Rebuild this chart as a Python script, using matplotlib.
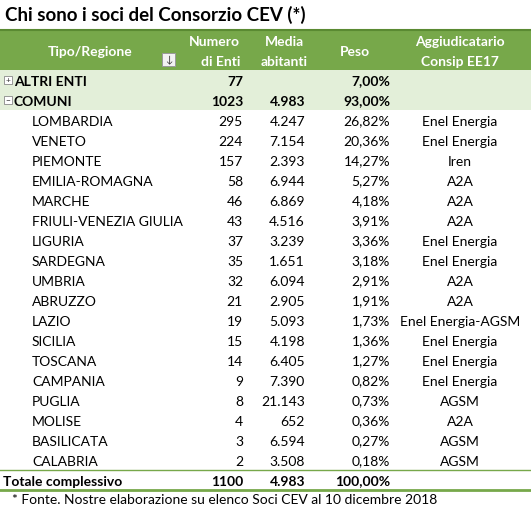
import matplotlib
matplotlib.use('Agg')
import matplotlib.pyplot as plt
from matplotlib.patches import Rectangle

regions = ['LOMBARDIA', 'VENETO', 'PIEMONTE', 'EMILIA-ROMAGNA', 'MARCHE', 'FRIULI-VENEZIA GIULIA',
           'LIGURIA', 'SARDEGNA', 'UMBRIA', 'ABRUZZO', 'LAZIO', 'SICILIA', 'TOSCANA', 'CAMPANIA',
           'PUGLIA', 'MOLISE', 'BASILICATA', 'CALABRIA']
n_enti = [295, 224, 157, 58, 46, 43, 37, 35, 32, 21, 19, 15, 14, 9, 8, 4, 3, 2]
media = ['4.247', '7.154', '2.393', '6.944', '6.869', '4.516', '3.239', '1.651', '6.094', '2.905',
         '5.093', '4.198', '6.405', '7.390', '21.143', '652', '6.594', '3.508']
peso = ['26,82%', '20,36%', '14,27%', '5,27%', '4,18%', '3,91%', '3,36%', '3,18%', '2,91%', '1,91%',
        '1,73%', '1,36%', '1,27%', '0,82%', '0,73%', '0,36%', '0,27%', '0,18%']
aggiud = ['Enel Energia', 'Enel Energia', 'Iren', 'A2A', 'A2A', 'A2A', 'Enel Energia', 'Enel Energia',
          'A2A', 'A2A', 'Enel Energia-AGSM', 'Enel Energia', 'Enel Energia', 'Enel Energia', 'AGSM',
          'A2A', 'AGSM', 'AGSM']
groups = [('ALTRI ENTI', '77', '', '7,00%'), ('COMUNI', '1023', '4.983', '93,00%')]
totale = ('Totale complessivo', '1100', '4.983', '100,00%')

plt.rcParams['font.family'] = ['Lato', 'DejaVu Sans']
fig = plt.figure(figsize=(5.31, 5.11), dpi=100)
ax = fig.add_axes([0, 0, 1, 1])
ax.set_xlim(0, 531)
ax.set_ylim(511, 0)
ax.axis('off')

fs = 10.0
dy = 1.5  # baseline nudge
green = '#77a84a'
light = '#e3efd9'
ax.text(5, 15, 'Chi sono i soci del Consorzio CEV (*)', fontsize=13.5, fontweight='bold',
        va='center', ha='left')

ax.add_patch(Rectangle((0, 30), 531, 40, color=green, lw=0))
ax.plot([0, 531], [30, 30], color='#5a8a32', lw=1.5)
hdr = dict(color='white', fontweight='bold', fontsize=fs, va='center')
ax.text(90, 50 + dy, 'Tipo/Regione', ha='center', **hdr)
ax.add_patch(Rectangle((162, 53), 13, 13, facecolor='#f2f2f2', edgecolor='#999999', lw=0.7))
ax.text(168.5, 59.5, '↓', ha='center', va='center', fontsize=7, color='#333333')
ax.text(240, 40 + dy, 'Numero', ha='right', **hdr)
ax.text(240, 60 + dy, 'di Enti', ha='right', **hdr)
ax.text(284, 40 + dy, 'Media', ha='center', **hdr)
ax.text(284, 60 + dy, 'abitanti', ha='center', **hdr)
ax.text(355, 50 + dy, 'Peso', ha='center', **hdr)
ax.text(460, 40 + dy, 'Aggiudicatario', ha='center', **hdr)
ax.text(460, 60 + dy, 'Consip EE17', ha='center', **hdr)

y = 80
ax.add_patch(Rectangle((0, 70), 531, 40, color=light, lw=0))
for (name, n, m, p), sign in zip(groups, ['+', '−']):
    ax.add_patch(Rectangle((4, y - 4), 8, 8, facecolor='white', edgecolor='#888888', lw=0.6))
    ax.text(8, y, sign, ha='center', va='center', fontsize=6, color='#333333')
    b = dict(fontweight='bold', fontsize=fs, va='center')
    ax.text(14, y + dy, name, ha='left', **b)
    ax.text(243, y + dy, n, ha='right', **b)
    ax.text(305, y + dy, m, ha='right', **b)
    ax.text(390, y + dy, p, ha='right', **b)
    y += 20

for name, n, m, p, a in zip(regions, n_enti, media, peso, aggiud):
    ax.text(32, y + dy, name, ha='left', va='center', fontsize=fs)
    ax.text(243, y + dy, str(n), ha='right', va='center', fontsize=fs)
    ax.text(305, y + dy, m, ha='right', va='center', fontsize=fs)
    ax.text(390, y + dy, p, ha='right', va='center', fontsize=fs)
    ax.text(460, y + dy, a, ha='center', va='center', fontsize=fs)
    y += 20

ax.plot([0, 531], [y - 10, y - 10], color=green, lw=1)
b = dict(fontweight='bold', fontsize=fs, va='center')
ax.text(3, y + dy, totale[0], ha='left', **b)
ax.text(243, y + dy, totale[1], ha='right', **b)
ax.text(305, y + dy, totale[2], ha='right', **b)
ax.text(390, y + dy, totale[3], ha='right', **b)
ax.plot([0, 531], [y + 10, y + 10], color=green, lw=2)
ax.text(12, y + 20, '* Fonte. Nostre elaborazione su elenco Soci CEV al 10 dicembre 2018',
        ha='left', va='center', fontsize=fs)

fig.savefig('out.png', dpi=100)
